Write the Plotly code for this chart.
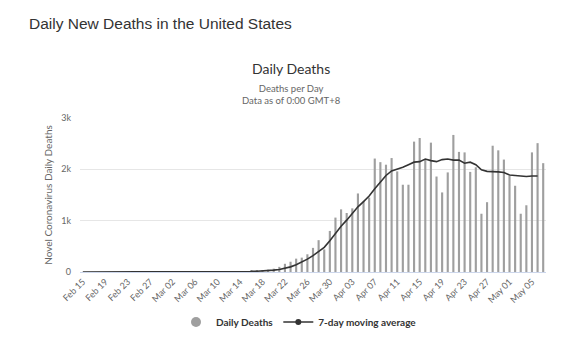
import pandas as pd
import plotly.graph_objects as go

# Calendar days shown on the x axis (Feb 15 .. May 07, 2020)
dates = pd.date_range("2020-02-15", "2020-05-07", freq="D")
day_labels = [d.strftime("%b %d") for d in dates]

# Daily new deaths, one value per day
daily_deaths = [
    0, 0, 0, 0, 0, 0, 0, 0, 0, 0, 0, 0, 0, 0, 1,          # Feb 15 - Feb 29
    1, 1, 5, 2, 1, 1, 2, 3, 4, 4, 6, 9, 9, 10, 14, 20,    # Mar 01 - Mar 16
    25, 35, 45, 65, 100, 160, 200, 260, 280, 345, 470,    # Mar 17 - Mar 27
    620, 440, 800, 1060,                                  # Mar 28 - Mar 31
    1220, 1150, 1240, 1530, 1380, 1450, 2210, 2140, 2090, 2220,   # Apr 01 - Apr 10
    1960, 1700, 1700, 2540, 2610, 2190, 2520, 1860, 1550, 1940,   # Apr 11 - Apr 20
    2670, 2340, 2330, 1950, 2040, 1135, 1360, 2460, 2370, 2190,   # Apr 21 - Apr 30
    1870, 1680, 1135, 1300, 2330, 2510, 2120,                     # May 01 - May 07
]

# 7-day moving average (ends one day before the last bar)
moving_avg = [
    0, 0, 0, 0, 0, 0, 0, 0, 0, 0, 0, 0, 0, 0, 0,          # Feb 15 - Feb 29
    0, 0, 1, 1, 1, 2, 2, 2, 2, 3, 3, 4, 5, 7, 9, 12,      # Mar 01 - Mar 16
    15, 20, 27, 37, 50, 70, 100, 140, 190, 250, 320,      # Mar 17 - Mar 27
    400, 480, 610, 760,                                   # Mar 28 - Mar 31
    890, 1010, 1140, 1270, 1370, 1480, 1620, 1740, 1880, 1970,    # Apr 01 - Apr 10
    2000, 2040, 2090, 2140, 2150, 2200, 2170, 2150, 2190, 2200,   # Apr 11 - Apr 20
    2180, 2180, 2120, 2140, 2090, 1990, 1960, 1960, 1950, 1940,   # Apr 21 - Apr 30
    1890, 1880, 1870, 1860, 1870, 1870,                           # May 01 - May 06
]

tick_labels = day_labels[::4]

BAR_COLOR = "#9f9f9f"
LINE_COLOR = "#333333"
TEXT_GREY = "#666666"
CHART_FONT = "Lato"

fig = go.Figure()

fig.add_trace(go.Bar(
    x=day_labels, y=daily_deaths, name="Daily Deaths",
    marker=dict(color=BAR_COLOR, line=dict(width=0)),
    showlegend=False,
))
fig.add_trace(go.Scatter(
    x=day_labels[:len(moving_avg)], y=moving_avg, name="7-day moving average",
    mode="lines", line=dict(color=LINE_COLOR, width=1.6),
    showlegend=False,
))

# Legend entries: round symbol for the bars, line with dot for the average
fig.add_trace(go.Scatter(
    x=[None], y=[None], mode="markers", name="Daily Deaths",
    marker=dict(color=BAR_COLOR, size=10, symbol="circle"),
))
fig.add_trace(go.Scatter(
    x=[None], y=[None], mode="lines+markers", name="7-day moving average",
    line=dict(color=LINE_COLOR, width=1.6),
    marker=dict(color=LINE_COLOR, size=6, symbol="circle"),
))

fig.update_layout(
    width=584, height=340,
    margin=dict(l=80, r=38, t=118, b=68, autoexpand=False),
    paper_bgcolor="white", plot_bgcolor="white",
    bargap=0.62,
    font=dict(family=CHART_FONT, color=TEXT_GREY, size=9),
    showlegend=True,
    legend=dict(
        orientation="h", x=0.47, y=-0.325, xanchor="center", yanchor="middle",
        font=dict(family=CHART_FONT, size=10, color="#333333", weight="bold"),
        itemwidth=30, tracegroupgap=0,
    ),
    xaxis=dict(
        type="category", categoryorder="array", categoryarray=day_labels,
        tickmode="array", tickvals=tick_labels, ticktext=tick_labels,
        tickangle=-45, tickfont=dict(size=9, color=TEXT_GREY),
        showgrid=False, showline=True, linecolor="#ccd6eb", linewidth=1,
        ticks="", range=[-0.5, len(day_labels) - 0.5], automargin=False,
    ),
    yaxis=dict(
        range=[0, 3000], tickvals=[0, 1000, 2000, 3000],
        ticktext=["0", "1k", "2k", "3k"],
        tickfont=dict(size=9, color=TEXT_GREY),
        showgrid=True, gridcolor="#e6e6e6", gridwidth=1,
        zeroline=False, showline=False, ticks="",
        ticklabelstandoff=8, automargin=False,
        title=dict(text="Novel Coronavirus Daily Deaths",
                   font=dict(size=10, color=TEXT_GREY), standoff=6),
    ),
)

# Page heading and chart titles
fig.add_annotation(
    text="Daily New Deaths in the United States", xref="paper", yref="paper",
    x=-53 / 466, y=(272 - 24) / 154, xanchor="left", yanchor="middle",
    showarrow=False,
    font=dict(family="Liberation Sans, Arial", size=15.5, color="#333333"),
)
fig.add_annotation(
    text="Daily Deaths", xref="paper", yref="paper",
    x=(291 - 80) / 466, y=(272 - 68) / 154, xanchor="center", yanchor="middle",
    showarrow=False, font=dict(family=CHART_FONT, size=14, color="#333333"),
)
fig.add_annotation(
    text="Deaths per Day<br>Data as of 0:00 GMT+8", xref="paper", yref="paper",
    x=(291 - 80) / 466, y=(272 - 94.5) / 154, xanchor="center", yanchor="middle",
    showarrow=False, align="center",
    font=dict(family=CHART_FONT, size=9.5, color=TEXT_GREY),
)

fig.write_html("out.html")
